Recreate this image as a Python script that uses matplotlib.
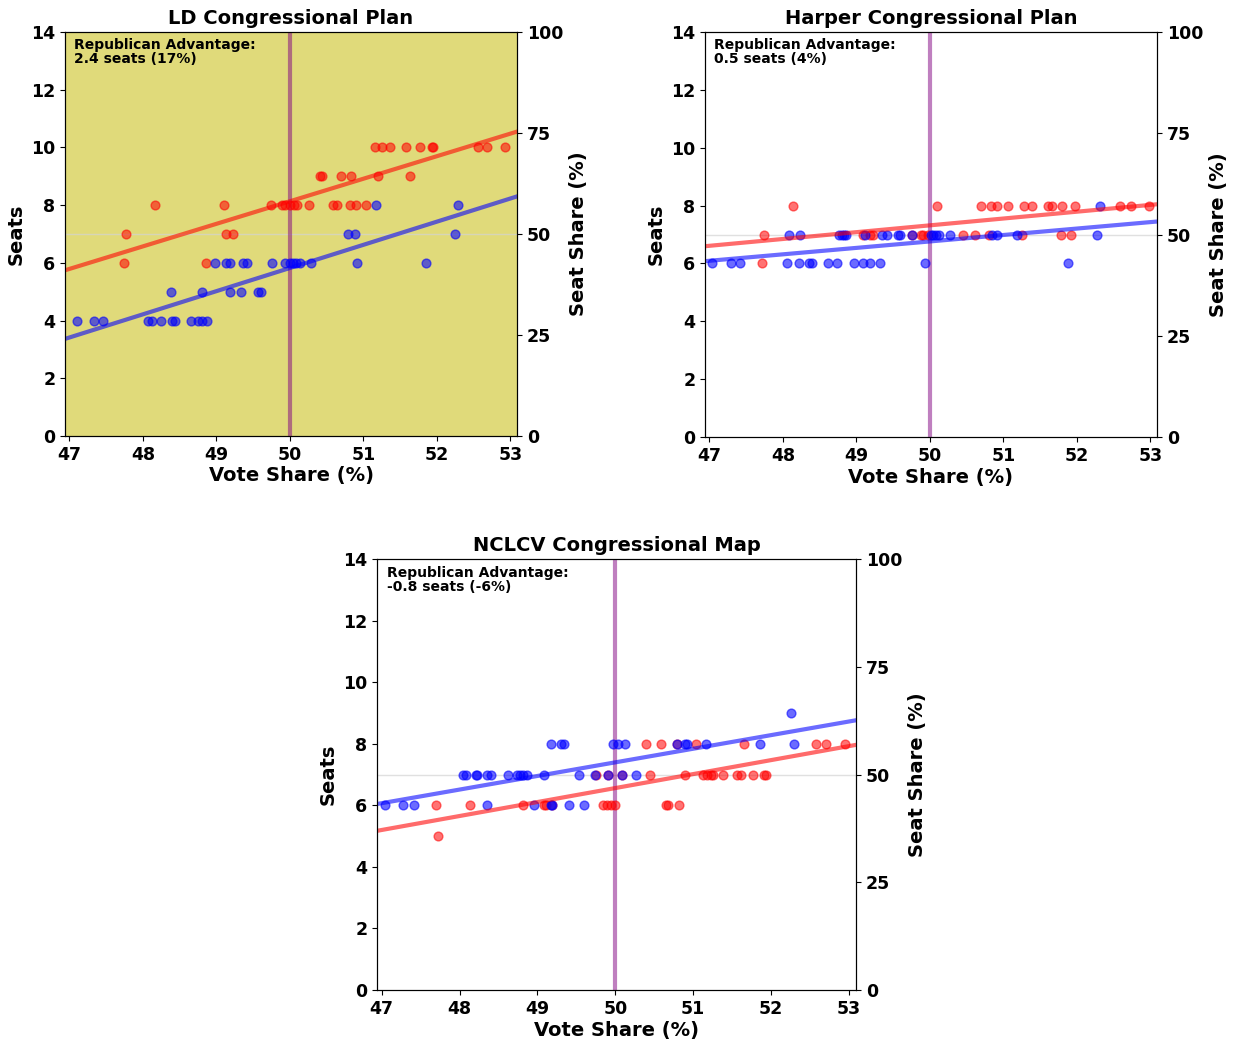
import numpy as np
import matplotlib
matplotlib.use("Agg")
import matplotlib.pyplot as plt

plt.rcParams['font.family'] = ['DejaVu Sans']
plt.rcParams['font.weight'] = 'bold'

TOTAL_SEATS = 14
x_ticks = [47, 48, 49, 50, 51, 52, 53]
seat_ticks = [0, 2, 4, 6, 8, 10, 12, 14]
share_ticks = [0, 25, 50, 75, 100]

# LD Congressional Plan
ld_rep_vote = [47.74, 47.77, 48.17, 48.86, 49.10, 49.13, 49.23, 49.74, 49.89, 49.93, 50.00, 50.05,
               50.09, 50.26, 50.41, 50.44, 50.59, 50.64, 50.69, 50.82, 50.83, 50.90, 51.03, 51.16,
               51.20, 51.25, 51.36, 51.58, 51.64, 51.77, 51.93, 51.95, 52.56, 52.68, 52.93]
ld_rep_seats = [6, 7, 8, 6, 8, 7, 7, 8, 8, 8, 8, 8,
                8, 8, 9, 9, 8, 8, 9, 8, 9, 8, 8, 10,
                9, 10, 10, 10, 9, 10, 10, 10, 10, 10, 10]
ld_dem_vote = [47.10, 47.33, 47.46, 48.07, 48.12, 48.25, 48.38, 48.39, 48.44, 48.65, 48.75, 48.80,
               48.81, 48.87, 48.98, 49.13, 49.19, 49.19, 49.34, 49.36, 49.42, 49.57, 49.61, 49.76,
               49.93, 50.00, 50.04, 50.08, 50.14, 50.28, 50.79, 50.88, 50.91, 51.17, 51.85, 52.24, 52.28]
ld_dem_seats = [4, 4, 4, 4, 4, 4, 5, 4, 4, 4, 4, 4,
                5, 4, 6, 6, 6, 5, 5, 6, 6, 5, 5, 6,
                6, 6, 6, 6, 6, 6, 7, 7, 6, 8, 6, 7, 8]

# Harper Congressional Plan
hp_rep_vote = [47.71, 47.74, 48.14, 49.09, 49.19, 49.22, 49.75, 49.88, 49.91, 49.98, 50.10, 50.45,
               50.61, 50.70, 50.80, 50.83, 50.91, 51.06, 51.26, 51.28, 51.39, 51.61, 51.66, 51.78,
               51.80, 51.92, 51.97, 52.59, 52.73, 52.98]
hp_rep_seats = [6, 7, 8, 7, 7, 7, 7, 7, 7, 7, 8, 7,
                7, 8, 7, 8, 8, 8, 7, 8, 8, 8, 8, 7,
                8, 7, 8, 8, 8, 8]
hp_dem_vote = [47.04, 47.29, 47.42, 48.05, 48.08, 48.22, 48.23, 48.36, 48.40, 48.61, 48.74, 48.76,
               48.80, 48.83, 48.86, 48.97, 49.09, 49.12, 49.19, 49.32, 49.35, 49.41, 49.56, 49.60,
               49.75, 49.94, 50.01, 50.04, 50.08, 50.13, 50.28, 50.84, 50.91, 51.19, 51.88, 52.27, 52.32]
hp_dem_seats = [6, 6, 6, 6, 7, 6, 7, 6, 6, 6, 6, 7,
                7, 7, 7, 6, 6, 7, 6, 6, 7, 7, 7, 7,
                7, 6, 7, 7, 7, 7, 7, 7, 7, 7, 6, 7, 8]

# NCLCV Congressional Map
nc_rep_vote = [47.70, 47.72, 48.13, 48.82, 49.08, 49.11, 49.19, 49.75, 49.84, 49.89, 49.90, 49.94,
               50.00, 50.09, 50.40, 50.45, 50.59, 50.65, 50.68, 50.79, 50.82, 50.89, 51.03, 51.13,
               51.18, 51.23, 51.26, 51.38, 51.56, 51.61, 51.65, 51.77, 51.91, 51.94, 52.57, 52.70, 52.95]
nc_rep_seats = [6, 5, 6, 6, 6, 6, 6, 7, 6, 6, 7, 6,
                6, 7, 8, 7, 8, 6, 6, 8, 6, 7, 8, 7,
                7, 7, 7, 7, 7, 7, 8, 7, 7, 7, 8, 8, 8]
nc_dem_vote = [47.04, 47.28, 47.42, 48.05, 48.08, 48.21, 48.23, 48.35, 48.35, 48.41, 48.62, 48.74,
               48.78, 48.82, 48.87, 48.95, 49.09, 49.17, 49.17, 49.19, 49.30, 49.34, 49.40, 49.53,
               49.60, 49.74, 49.91, 49.97, 50.04, 50.09, 50.13, 50.26, 50.79, 50.89, 50.92, 51.16,
               51.86, 52.26, 52.29]
nc_dem_seats = [6, 6, 6, 7, 7, 7, 7, 7, 6, 7, 7, 7,
                7, 7, 7, 6, 7, 8, 6, 6, 8, 8, 6, 7,
                6, 7, 7, 8, 8, 7, 8, 7, 8, 8, 8, 8,
                8, 9, 8]

titles = ["LD Congressional Plan", "Harper Congressional Plan", "NCLCV Congressional Map"]
advantage_seats = [2.4, 0.5, -0.8]
advantage_pct = [17, 4, -6]

fig = plt.figure(figsize=(12.34, 10.46), dpi=100)
positions = [
    [0.0527, 0.5832, 0.3663, 0.3862],
    [0.5713, 0.5822, 0.3663, 0.3872],
    [0.3055, 0.0535, 0.3882, 0.4120],
]
panels = [
    (ld_rep_vote, ld_rep_seats, ld_dem_vote, ld_dem_seats),
    (hp_rep_vote, hp_rep_seats, hp_dem_vote, hp_dem_seats),
    (nc_rep_vote, nc_rep_seats, nc_dem_vote, nc_dem_seats),
]

XLIM = (46.94, 53.09)

for i, (pos, data) in enumerate(zip(positions, panels)):
    rx, ry, bx, by = data
    ax = fig.add_axes(pos)
    if i == 0:
        ax.set_facecolor('#e0da7a')
    ax.set_xlim(*XLIM)
    ax.set_ylim(0, TOTAL_SEATS)

    ax.axhline(TOTAL_SEATS / 2, color='lightgray', lw=1, alpha=0.7, zorder=1)
    ax.axvline(50, color='purple', lw=3, alpha=0.5, zorder=2)

    ax.scatter(rx, ry, s=40, color='red', alpha=0.55, linewidths=1, zorder=3)
    ax.scatter(bx, by, s=40, color='blue', alpha=0.58, linewidths=1, zorder=3)

    xs = np.array(XLIM)
    for vx, vy, c in ((rx, ry, 'red'), (bx, by, 'blue')):
        slope, icpt = np.polyfit(vx, vy, 1)
        ax.plot(xs, slope * xs + icpt, color=c, lw=3, alpha=0.58, zorder=4)

    ax.set_xticks(x_ticks)
    ax.set_yticks(seat_ticks)
    ax.tick_params(labelsize=12.5)
    for lab in ax.get_xticklabels() + ax.get_yticklabels():
        lab.set_fontweight('bold')
    ax.set_xlabel("Vote Share (%)", fontsize=14, fontweight='bold', labelpad=2)
    ax.set_ylabel("Seats", fontsize=14, fontweight='bold')
    ax.set_title(titles[i], fontsize=14, fontweight='bold', pad=6)

    ax.text(0.02, 0.985,
            f"Republican Advantage:\n{advantage_seats[i]} seats ({advantage_pct[i]}%)",
            transform=ax.transAxes, ha='left', va='top', fontsize=10,
            fontweight='bold', linespacing=1.0)

    ax2 = ax.twinx()
    ax2.set_ylim(0, 100)
    ax2.set_yticks(share_ticks)
    ax2.tick_params(labelsize=12.5)
    for lab in ax2.get_yticklabels():
        lab.set_fontweight('bold')
    ax2.set_ylabel("Seat Share (%)", fontsize=14, fontweight='bold')

fig.savefig("out.png", dpi=100)
